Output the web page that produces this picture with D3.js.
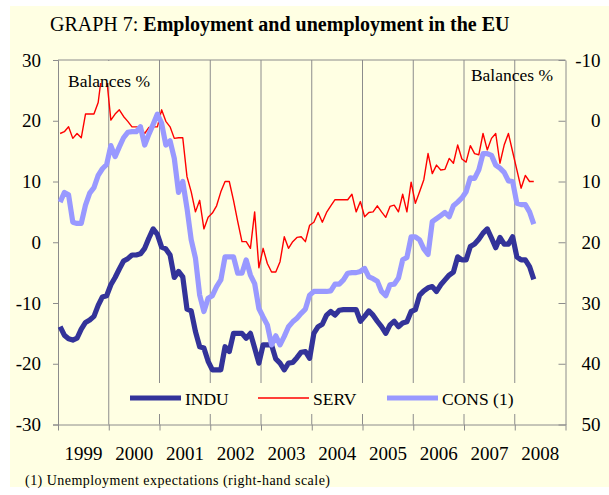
<!DOCTYPE html>
<html>
<head>
<meta charset="utf-8">
<script src="https://cdn.jsdelivr.net/npm/d3@7/dist/d3.min.js"></script>
<style>
  body{margin:0;background:#fff;}
  svg{display:block;font-family:"Liberation Serif","Times New Roman",serif;}
</style>
</head>
<body>
<svg id="chart" width="609" height="495"></svg>
<script>
/* ── data : monthly balances, Jan 1999 → May 2008 ── */
var years=[1999,2000,2001,2002,2003,2004,2005,2006,2007,2008];
var leftTicks=[-30,-20,-10,0,10,20,30];
var rightTicks=[-10,0,10,20,30,40,50];

var indu=[
  -13.9,-15.3,-15.9,-16.1,-15.8,-14.3,-13.2,-12.8,-12.2,-10.4,-9.0,-8.8,
  -7.0,-5.8,-4.4,-3.1,-2.7,-2.1,-2.1,-1.9,-1.0,0.7,2.2,1.3,
  -0.8,-1.1,-2.1,-5.8,-4.8,-5.7,-11.0,-11.3,-14.7,-17.2,-17.4,-19.6,
  -21.0,-21.0,-21.0,-17.2,-18.0,-15.0,-15.0,-15.0,-15.8,-15.0,-17.4,-19.9,
  -16.9,-16.9,-16.9,-19.2,-19.9,-21.0,-19.9,-19.8,-19.0,-18.1,-18.0,-19.1,
  -15.0,-13.9,-13.5,-12.0,-11.4,-12.0,-11.2,-11.1,-11.1,-11.1,-11.1,-13.0,
  -12.2,-11.3,-12.0,-13.0,-13.9,-15.0,-13.6,-13.0,-13.9,-13.3,-13.1,-11.4,
  -11.1,-8.7,-8.0,-7.5,-7.3,-8.1,-7.0,-6.2,-5.4,-4.9,-2.4,-2.9,
  -2.9,-0.7,-0.3,0.5,1.5,2.2,0.7,-0.9,0.8,-0.3,-0.3,0.9,
  -2.4,-2.9,-2.9,-4.0,-6.1
];
var serv=[
  17.9,18.2,19.0,17.1,17.9,17.2,21.1,21.1,21.1,23.0,28.5,27.0,
  20.1,21.1,21.8,20.7,19.9,19.0,19.0,19.0,17.9,18.9,19.0,19.0,
  21.8,19.9,19.0,17.1,17.2,17.2,10.8,8.3,5.0,6.9,2.2,4.1,
  4.8,6.0,8.3,10.0,10.0,6.9,3.4,0.1,0.1,-1.0,5.0,-4.2,
  -1.0,-3.5,-4.9,-4.9,-3.2,0.9,-1.0,0.1,0.8,0.9,0.1,2.8,
  3.3,4.9,3.3,4.9,6.0,7.0,7.0,7.0,7.0,7.9,5.0,6.7,
  4.2,4.9,5.0,6.0,5.0,4.1,5.9,6.1,5.0,7.9,5.0,9.9,
  6.4,8.3,10.3,14.6,11.3,12.7,11.9,12.0,13.8,13.0,16.0,13.7,
  13.2,15.9,14.6,14.4,17.9,15.2,17.1,17.9,13.0,16.0,17.9,14.9,
  11.9,8.9,11.0,10.0,10.0
];
/* CONS: unemployment expectations, right-hand (inverted) scale */
var cons=[
  13.4,11.8,12.2,16.7,16.9,16.9,13.9,11.9,11.0,9.0,7.9,7.2,
  4.1,5.9,4.3,2.8,1.9,1.8,1.8,1.0,4.0,2.2,0.6,-1.1,
  0.4,4.0,3.3,6.2,11.8,10.0,14.4,19.6,22.6,28.7,31.4,29.2,
  28.8,27.3,26.2,22.4,22.4,22.4,25.1,25.1,22.9,25.4,26.8,30.9,
  32.3,33.6,36.9,35.4,36.9,35.5,33.9,33.1,32.5,31.7,31.0,28.7,
  28.1,28.1,28.1,28.1,28.0,26.9,26.9,26.2,25.1,25.0,25.0,24.8,
  24.3,25.7,26.0,26.4,28.1,28.8,27.0,26.9,25.9,22.9,22.5,19.1,
  19.1,19.6,21.1,22.0,16.6,16.1,15.6,15.1,15.8,14.0,13.4,12.7,
  11.7,9.4,9.5,8.1,5.4,5.4,5.7,7.3,7.8,8.5,9.9,10.0,
  13.6,13.8,13.8,15.0,17.0
];

var seriesInfo=[
  {name:'INDU',     data:indu, col:'#333399', w:5.2, right:false},
  {name:'SERV',     data:serv, col:'#ff0000', w:1.4, right:false},
  {name:'CONS (1)', data:cons, col:'#9999ff', w:5.2, right:true}
];

/* ── layout ── */
var BG='#ffffe3';
var PL=58, PR=565.5, PT=60, PB=424.5;
var svg=d3.select('#chart');

svg.append('rect').attr('x',10).attr('y',6).attr('width',599).attr('height',481).attr('fill',BG);

var x=d3.scaleLinear().domain([0,years.length*12]).range([PL,PR]);
var yL=d3.scaleLinear().domain([-30,30]).range([PB,PT]);
var yR=d3.scaleLinear().domain([-10,50]).range([PT,PB]);
var plain=function(d){return String(d);};   // hyphen minus, as in the original

/* title */
var title=svg.append('text').attr('x',50).attr('y',31).attr('font-size',20).attr('fill','#000');
title.append('tspan').text('GRAPH 7: ');
title.append('tspan').attr('font-weight','bold').text('Employment and unemployment in the EU');

/* vertical year grid */
var gridMonths=d3.range(12,years.length*12,12);
svg.append('g').selectAll('line').data(gridMonths).enter().append('line')
  .attr('x1',function(d){return x(d);}).attr('x2',function(d){return x(d);})
  .attr('y1',PT).attr('y2',PB)
  .attr('stroke','#8c8c8c').attr('stroke-width',1);

/* top border */
svg.append('line').attr('x1',PL).attr('x2',PR).attr('y1',PT).attr('y2',PT)
  .attr('stroke','#8c8c8c').attr('stroke-width',1);

/* left axis */
var gl=svg.append('g').attr('transform','translate('+PL+',0)')
  .call(d3.axisLeft(yL).tickValues(leftTicks).tickSize(5).tickPadding(12).tickFormat(plain));
/* right axis */
var gr=svg.append('g').attr('transform','translate('+PR+',0)')
  .call(d3.axisRight(yR).tickValues(rightTicks).tickSizeInner(-7).tickSizeOuter(0).tickFormat(plain));
gr.selectAll('text').attr('text-anchor','end').attr('x',35);
/* bottom axis */
var gb=svg.append('g').attr('transform','translate(0,'+PB+')')
  .call(d3.axisBottom(x).tickValues(d3.range(0,years.length*12+1,12)).tickSize(6).tickSizeOuter(0).tickFormat(''));

[gl,gr,gb].forEach(function(g){
  g.select('.domain').attr('stroke','#8c8c8c');
  g.selectAll('.tick line').attr('stroke','#8c8c8c');
  g.selectAll('text').attr('font-family','Liberation Serif,serif').attr('font-size',19).attr('fill','#000');
});

/* year labels, centred in each year */
svg.append('g').selectAll('text').data(years).enter().append('text')
  .attr('x',function(d,i){return x(i*12+6);}).attr('y',460)
  .attr('text-anchor','middle').attr('font-size',19).text(function(d){return d;});

/* series */
var plot=svg.append('g');
seriesInfo.forEach(function(s){
  var yS=s.right?yR:yL;
  var line=d3.line().x(function(d,i){return x(i+0.5);}).y(function(d){return yS(d);});
  plot.append('path').datum(s.data).attr('d',line)
    .attr('fill','none').attr('stroke',s.col).attr('stroke-width',s.w)
    .attr('stroke-linejoin','round').attr('stroke-linecap','butt');
});

/* "Balances %" labels (left one masks the top of the SERV line) */
svg.append('rect').attr('x',66).attr('y',61).attr('width',88).attr('height',22).attr('fill',BG);
svg.append('text').attr('x',68).attr('y',87).attr('font-size',17.5).text('Balances %');
svg.append('text').attr('x',553).attr('y',81).attr('text-anchor','end').attr('font-size',17.5).text('Balances %');

/* legend */
var leg=svg.append('g');
leg.append('rect').attr('x',122).attr('y',383).attr('width',405).attr('height',31).attr('fill',BG);
var legX=[130,258,387];
seriesInfo.forEach(function(s,i){
  leg.append('line').attr('x1',legX[i]).attr('x2',legX[i]+51).attr('y1',398).attr('y2',398)
    .attr('stroke',s.col).attr('stroke-width',s.w);
  leg.append('text').attr('x',legX[i]+55).attr('y',405).attr('font-size',17.5).text(s.name);
});

/* footnote */
svg.append('text').attr('x',25).attr('y',485).attr('font-size',14).attr('textLength',305)
  .attr('lengthAdjust','spacing').text('(1) Unemployment expectations (right-hand scale)');
</script>
</body>
</html>
